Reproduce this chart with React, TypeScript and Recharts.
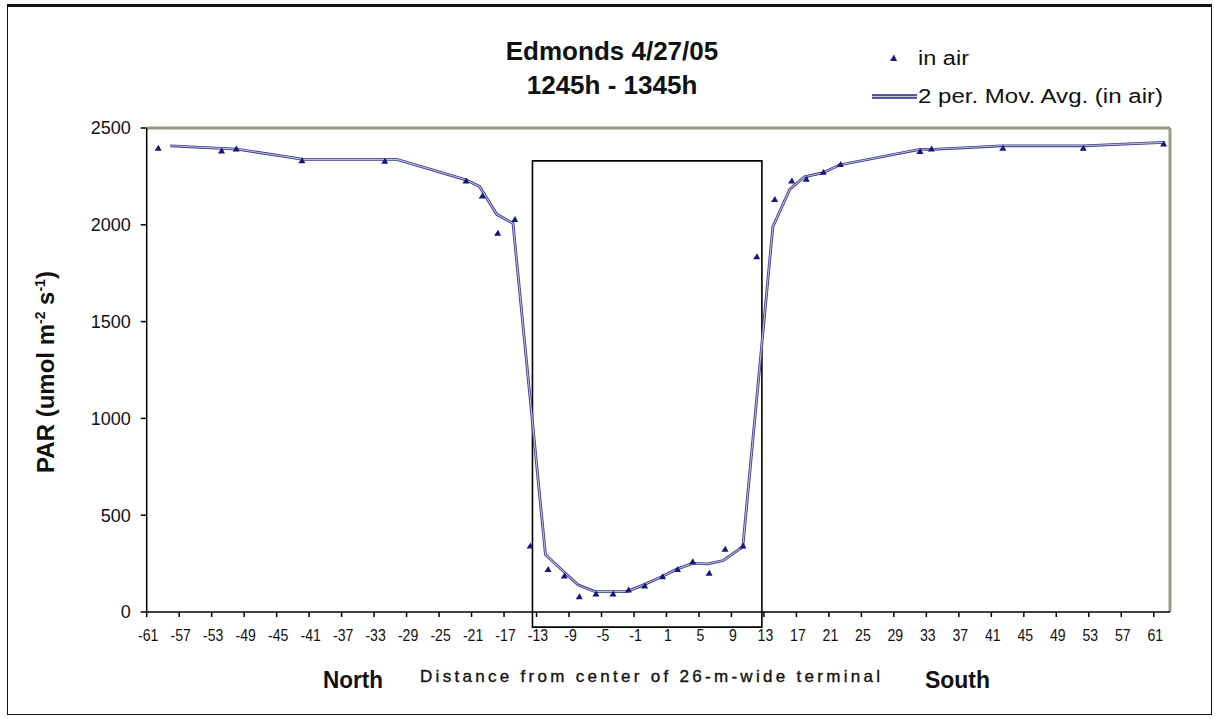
import React from 'react';
import {
  ScatterChart,
  Scatter,
  XAxis,
  YAxis,
  ReferenceArea,
  ReferenceLine,
} from 'recharts';

const WIDTH = 1215;
const HEIGHT = 719;
const FONT = '"Liberation Sans", Arial, Helvetica, sans-serif';
const NAVY = '#16167e';

// Positions of the distance ticks along the axis and the labels printed under them
const tickPositions = [
  -61, -57, -53, -49, -45, -41, -37, -33, -29, -25, -21, -17, -13, -9, -5, -1,
  3, 7, 11, 15, 19, 23, 27, 31, 35, 39, 43, 47, 51, 55, 59, 63,
];
const distanceLabels = [
  '-61', '-57', '-53', '-49', '-45', '-41', '-37', '-33', '-29', '-25', '-21',
  '-17', '-13', '-9', '-5', '-1', '1', '5', '9', '13', '17', '21', '25', '29',
  '33', '37', '41', '45', '49', '53', '57', '61',
];
const parTicks = [0, 500, 1000, 1500, 2000, 2500];

// PAR readings taken in air along the transect
const inAirPos = [
  -59.6, -51.8, -50.0, -41.9, -31.7, -21.7, -19.7, -17.8, -15.7, -13.8, -11.6,
  -9.6, -7.75, -5.7, -3.6, -1.7, 0.3, 2.5, 4.35, 6.2, 8.24, 10.2, 12.4, 14.1,
  16.3, 18.4, 20.2, 22.3, 24.4, 34.2, 35.6, 44.4, 54.3, 64.2,
];
const inAirPar = [
  2395, 2381, 2392, 2331, 2328, 2226, 2149, 1956, 2028, 341, 220, 186, 79, 93,
  93, 114, 134, 182, 220, 260, 200, 324, 341, 1835, 2131, 2226, 2235, 2271,
  2312, 2378, 2392, 2395, 2395, 2417,
];

// 2-period moving average of the in-air readings
const movAvgPos = [
  -58.1, -49.9, -41.7, -30.2, -21.6, -20.0, -17.9, -15.9, -11.9, -7.9, -5.8,
  -1.9, 0.1, 2.4, 4.2, 6.2, 8.1, 10.0, 12.4, 16.1, 18.2, 20.0, 22.3, 24.3,
  34.2, 35.8, 44.4, 54.3, 64.3,
];
const movAvgPar = [
  2408, 2391, 2338, 2338, 2231, 2197, 2054, 2008, 296, 140, 105, 105, 139, 182,
  220, 251, 249, 266, 337, 1990, 2184, 2248, 2269, 2309, 2390, 2390, 2408, 2408,
  2426,
];

// Extent of the 26-m-wide terminal
const terminalStart = -13.5;
const terminalEnd = 14.75;
const terminalTop = 2330;
const terminalBottom = -78;

const inAir = inAirPos.map((x, i) => ({ x, y: inAirPar[i] }));
const movAvg = movAvgPos.map((x, i) => ({ x, y: movAvgPar[i] }));

const AirMarker = (props: any) => {
  const { cx, cy } = props;
  if (cx == null || cy == null) return <g />;
  return (
    <polygon
      points={`${cx - 3.5},${cy + 2.5} ${cx + 3.5},${cy + 2.5} ${cx + 0.5},${cy - 3.5}`}
      fill={NAVY}
    />
  );
};

const NoMarker = () => <g />;

const DistanceTick = (props: any) => {
  const { x, y, payload } = props;
  const i = tickPositions.indexOf(payload.value);
  return (
    <text
      transform={`translate(${x + 1.5},${y + 22}) scale(0.88,1)`}
      textAnchor="middle"
      fontSize={16}
      fill="#111"
      fontFamily={FONT}
    >
      {distanceLabels[i]}
    </text>
  );
};

export default function App() {
  return (
    <div
      style={{
        position: 'absolute',
        left: 0,
        top: 0,
        width: WIDTH,
        height: HEIGHT,
        background: '#fff',
        fontFamily: FONT,
      }}
    >
      {/* chart frame */}
      <div
        style={{
          position: 'absolute',
          left: 7,
          top: 4,
          width: 1205,
          height: 711,
          borderLeft: '1.5px solid #111',
          borderRight: '1.5px solid #111',
          borderBottom: '1.5px solid #111',
          borderTop: '3px solid #111',
          boxSizing: 'border-box',
        }}
      />
      <div style={{ position: 'absolute', left: 0, top: 0 }}>
        <ScatterChart
          width={WIDTH}
          height={HEIGHT}
          margin={{ top: 128, right: 45, bottom: 67, left: 66.7 }}
        >
          <XAxis
            type="number"
            dataKey="x"
            domain={[-61, 65]}
            ticks={tickPositions}
            allowDataOverflow
            height={40}
            tickSize={5}
            tickMargin={2}
            axisLine={{ stroke: '#000', strokeWidth: 1.5 }}
            tickLine={{ stroke: '#000', strokeWidth: 1.5 }}
            tick={<DistanceTick />}
            interval={0}
          />
          <YAxis
            type="number"
            dataKey="y"
            domain={[0, 2500]}
            ticks={parTicks}
            allowDataOverflow
            width={80}
            tickSize={6}
            tickMargin={10}
            axisLine={{ stroke: '#000', strokeWidth: 1.5 }}
            tickLine={{ stroke: '#000', strokeWidth: 1.5 }}
            tick={{ fontSize: 18, fill: '#111', fontFamily: FONT }}
            interval={0}
          />
          {/* plot area border (top and right) */}
          <ReferenceLine y={2500} stroke="#9a9a84" strokeWidth={3} ifOverflow="visible" />
          <ReferenceLine x={65} stroke="#9a9a84" strokeWidth={3} ifOverflow="visible" />
          <ReferenceArea
            x1={terminalStart}
            x2={terminalEnd}
            y1={terminalBottom}
            y2={terminalTop}
            ifOverflow="visible"
            fill="none"
            fillOpacity={0}
            stroke="#000"
            strokeWidth={1.6}
          />
          <Scatter
            data={movAvg}
            fill="#3a3a8c"
            line={{ stroke: '#3a3a8c', strokeWidth: 2.8 }}
            shape={<NoMarker />}
            isAnimationActive={false}
          />
          <Scatter
            data={movAvg}
            fill="#bcbcdc"
            line={{ stroke: '#bcbcdc', strokeWidth: 1.1 }}
            shape={<NoMarker />}
            isAnimationActive={false}
          />
          <Scatter
            data={inAir}
            fill={NAVY}
            shape={<AirMarker />}
            isAnimationActive={false}
          />
        </ScatterChart>
      </div>
      <svg
        width={WIDTH}
        height={HEIGHT}
        style={{ position: 'absolute', left: 0, top: 0, pointerEvents: 'none' }}
        fontFamily={FONT}
      >
        {/* title */}
        <text x={612} y={60} textAnchor="middle" fontSize={26} fontWeight="bold" fill="#111">
          Edmonds 4/27/05
        </text>
        <text x={612} y={94} textAnchor="middle" fontSize={26} fontWeight="bold" fill="#111">
          1245h - 1345h
        </text>

        {/* legend */}
        <polygon points="890,61 897,61 894,54.5" fill={NAVY} />
        <text x={918} y={65} fontSize={20} fill="#111" textLength={51} lengthAdjust="spacingAndGlyphs">
          in air
        </text>
        <line x1={872} y1={96.5} x2={917} y2={96.5} stroke="#2a2a84" strokeWidth={4.5} />
        <line x1={872} y1={96.5} x2={917} y2={96.5} stroke="#c8c8e4" strokeWidth={1.5} />
        <text x={918} y={103} fontSize={20} fill="#111" textLength={245} lengthAdjust="spacingAndGlyphs">
          2 per. Mov. Avg. (in air)
        </text>

        {/* y axis title */}
        <text
          transform="translate(54,372) rotate(-90)"
          textAnchor="middle"
          fontSize={24}
          fontWeight="bold"
          fill="#111"
        >
          PAR (umol m
          <tspan dy={-9} fontSize={14}>-2</tspan>
          <tspan dy={9}> s</tspan>
          <tspan dy={-9} fontSize={14}>-1</tspan>
          <tspan dy={9}>)</tspan>
        </text>

        {/* x axis captions */}
        <text x={323} y={688} fontSize={24} fontWeight="bold" fill="#111" textLength={60} lengthAdjust="spacingAndGlyphs">
          North
        </text>
        <text
          x={420}
          y={682}
          fontSize={17}
          fill="#111"
          stroke="#111"
          strokeWidth={0.35}
          textLength={460}
          lengthAdjust="spacing"
        >
          Distance from center of 26-m-wide terminal
        </text>
        <text x={925} y={688} fontSize={24} fontWeight="bold" fill="#111" textLength={65} lengthAdjust="spacingAndGlyphs">
          South
        </text>
      </svg>
    </div>
  );
}
